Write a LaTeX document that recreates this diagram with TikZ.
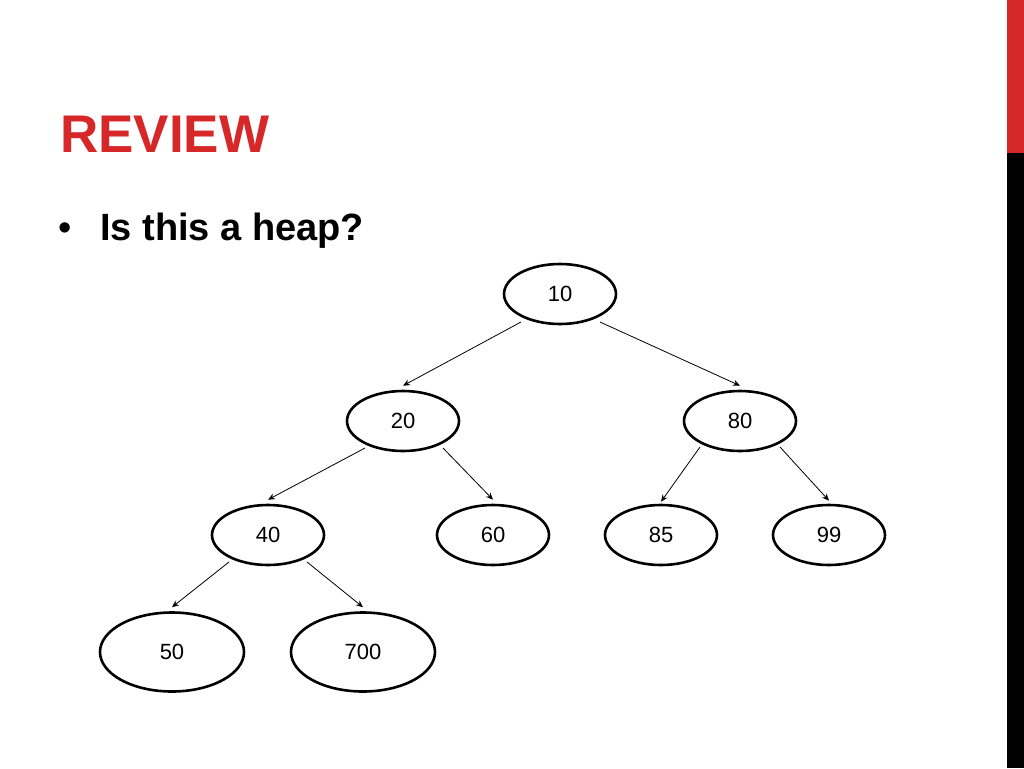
\documentclass[tikz,border=0pt]{standalone}
\usepackage{fontspec}
\setmainfont{Liberation Sans}
\usetikzlibrary{shapes.geometric,calc,arrows.meta}
\definecolor{rred}{RGB}{214,40,40}
\begin{document}
\begin{tikzpicture}[x=1pt,y=-1pt,
  hn/.style={ellipse,draw,line width=2.6pt,inner sep=0pt,minimum width=112pt,minimum height=60pt,font=\fontsize{22}{22}\selectfont},
  bn/.style={hn,minimum width=144pt,minimum height=79pt},
  ar/.style={-{Stealth[length=7pt,width=6pt]},line width=0.8pt}]
\useasboundingbox (0,0) rectangle (1024,768);
\fill[white] (0,0) rectangle (1024,768);
\fill[rred] (1007,0) rectangle (1024,153);
\fill[black] (1007,153) rectangle (1024,768);
\node[anchor=base west,text=rred,font=\fontsize{53}{53}\selectfont\bfseries,inner sep=0pt] (title) at (60,152) {REVIEW};
\node[anchor=base west,font=\fontsize{38}{38}\selectfont,inner sep=0pt] (bul) at (58,240) {•};
\node[anchor=base west,font=\fontsize{38}{38}\selectfont\bfseries,inner sep=0pt] (q) at (100,240) {Is this a heap?};
\node[hn] (n10) at (560,294) {10};
\node[hn] (n20) at (403,421) {20};
\node[hn] (n80) at (740,421) {80};
\node[hn] (n40) at (268,535) {40};
\node[hn] (n60) at (493,535) {60};
\node[hn] (n85) at (661,535) {85};
\node[hn] (n99) at (829,535) {99};
\node[bn] (n50) at (172,652) {50};
\node[bn] (n700) at (363,652) {700};
\draw[ar] ($(n10)+(-39,28)$) -- ($(n20.north)+(0,-4)$);
\draw[ar] ($(n10)+(40,28)$) -- ($(n80.north)+(0,-4)$);
\draw[ar] ($(n20)+(-38,27)$) -- ($(n40.north)+(0,-4)$);
\draw[ar] ($(n20)+(40,27)$) -- ($(n60.north)+(0,-4)$);
\draw[ar] ($(n80)+(-40,26)$) -- ($(n85.north)+(0,-2)$);
\draw[ar] ($(n80)+(40,26)$) -- ($(n99.north)+(0,-3)$);
\draw[ar] ($(n40)+(-39,27)$) -- ($(n50.north)+(0,-4)$);
\draw[ar] ($(n40)+(39,27)$) -- ($(n700.north)+(0,-4)$);
\end{tikzpicture}
\end{document}
